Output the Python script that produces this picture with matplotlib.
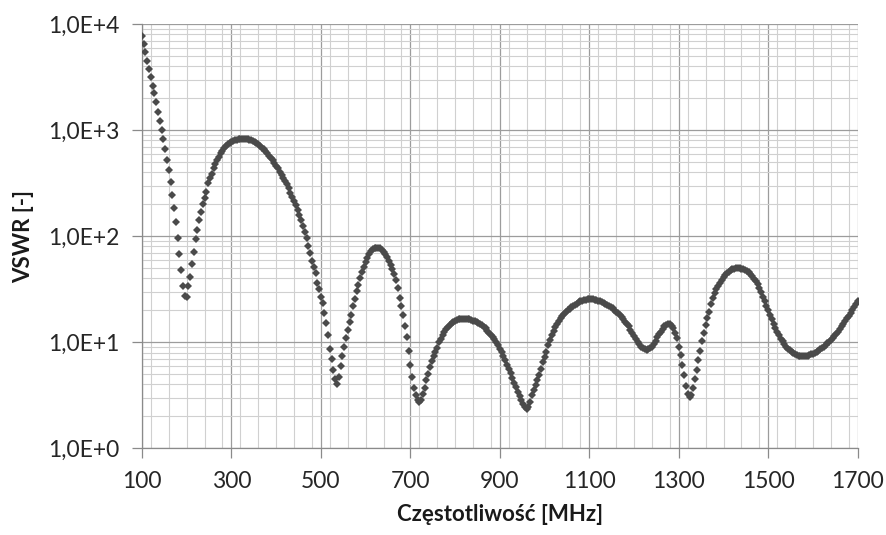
import numpy as np
import matplotlib
matplotlib.use('Agg')
import matplotlib.pyplot as plt
from matplotlib.ticker import FixedLocator, MultipleLocator, LogLocator, FuncFormatter

# sweep 100..1700 MHz, 4 MHz step
freq_start = 100
freq_step = 4

# log10(VSWR), one row per 100 MHz of the sweep
vswr_log10 = [
    3.89, 3.81, 3.74, 3.65, 3.58, 3.505, 3.42, 3.35, 3.265, 3.17, 3.09, 3.00, 2.92,
    2.82, 2.72, 2.62, 2.51, 2.39, 2.27, 2.13, 1.98, 1.83, 1.68, 1.53, 1.44,
    1.43, 1.53, 1.62, 1.74, 1.855, 1.97, 2.06, 2.155, 2.225, 2.30, 2.36, 2.42, 2.50,
    2.55, 2.59, 2.64, 2.68, 2.72, 2.75, 2.78, 2.805, 2.83, 2.85, 2.865, 2.88,
    2.89, 2.90, 2.905, 2.91, 2.915, 2.92, 2.92, 2.92, 2.92, 2.915, 2.91, 2.905, 2.90,
    2.89, 2.875, 2.865, 2.85, 2.835, 2.82, 2.80, 2.78, 2.76, 2.74, 2.72, 2.69,
    2.665, 2.64, 2.61, 2.58, 2.55, 2.52, 2.49, 2.45, 2.41, 2.37, 2.33, 2.29, 2.25,
    2.20, 2.15, 2.10, 2.04, 1.98, 1.91, 1.84, 1.77, 1.71, 1.65, 1.56, 1.50,
    1.43, 1.37, 1.28, 1.185, 1.07, 0.94, 0.84, 0.74, 0.65, 0.61, 0.67, 0.78, 0.87,
    0.96, 1.04, 1.12, 1.19, 1.26, 1.34, 1.41, 1.48, 1.54, 1.61, 1.665, 1.71,
    1.755, 1.795, 1.83, 1.86, 1.875, 1.885, 1.89, 1.89, 1.885, 1.87, 1.85, 1.83, 1.80,
    1.77, 1.73, 1.69, 1.645, 1.59, 1.51, 1.42, 1.34, 1.26, 1.15, 1.05, 0.92,
    0.79, 0.67, 0.57, 0.50, 0.46, 0.44, 0.46, 0.51, 0.57, 0.64, 0.70, 0.77, 0.82,
    0.87, 0.91, 0.95, 1.00, 1.035, 1.07, 1.10, 1.125, 1.145, 1.165, 1.18, 1.19,
    1.20, 1.21, 1.215, 1.22, 1.22, 1.22, 1.22, 1.22, 1.215, 1.21, 1.205, 1.20, 1.19,
    1.18, 1.17, 1.16, 1.145, 1.13, 1.11, 1.09, 1.07, 1.05, 1.03, 1.00, 0.97,
    0.94, 0.91, 0.87, 0.83, 0.79, 0.75, 0.71, 0.665, 0.62, 0.58, 0.535, 0.495, 0.455,
    0.42, 0.39, 0.375, 0.39, 0.44, 0.50, 0.55, 0.60, 0.64, 0.69, 0.75, 0.81,
    0.86, 0.91, 0.97, 1.02, 1.065, 1.105, 1.14, 1.17, 1.20, 1.225, 1.245, 1.265, 1.285,
    1.30, 1.315, 1.33, 1.345, 1.355, 1.365, 1.375, 1.385, 1.39, 1.395, 1.40, 1.405,
    1.41, 1.41, 1.405, 1.40, 1.395, 1.39, 1.385, 1.375, 1.37, 1.36, 1.355, 1.345, 1.335,
    1.32, 1.305, 1.29, 1.275, 1.255, 1.235, 1.215, 1.195, 1.175, 1.15, 1.12, 1.09,
    1.06, 1.035, 1.005, 0.98, 0.96, 0.945, 0.935, 0.93, 0.935, 0.945, 0.96, 0.985, 1.015,
    1.045, 1.075, 1.10, 1.125, 1.15, 1.165, 1.175, 1.17, 1.155, 1.13, 1.09, 1.04,
    0.96, 0.88, 0.79, 0.69, 0.59, 0.51, 0.48, 0.50, 0.57, 0.65, 0.74, 0.83, 0.92,
    1.01, 1.09, 1.16, 1.23, 1.29, 1.36, 1.42, 1.465, 1.50, 1.53, 1.56, 1.59,
    1.615, 1.635, 1.65, 1.665, 1.68, 1.69, 1.695, 1.70, 1.70, 1.70, 1.695, 1.69, 1.68,
    1.67, 1.66, 1.645, 1.625, 1.60, 1.575, 1.545, 1.51, 1.47, 1.43, 1.39, 1.345,
    1.30, 1.26, 1.215, 1.175, 1.135, 1.10, 1.065, 1.035, 1.01, 0.985, 0.96, 0.94, 0.925,
    0.91, 0.90, 0.89, 0.88, 0.875, 0.872, 0.87, 0.87, 0.87, 0.872, 0.878, 0.885,
    0.893, 0.90, 0.91, 0.92, 0.932, 0.945, 0.96, 0.975, 0.99, 1.005, 1.02, 1.04, 1.06,
    1.08, 1.10, 1.125, 1.15, 1.175, 1.20, 1.225, 1.25, 1.275, 1.30, 1.33, 1.36,
    1.39,
]

freq_ticks = [100, 300, 500, 700, 900, 1100, 1300, 1500, 1700]

vswr = 10 ** np.array(vswr_log10)
freq = freq_start + freq_step * np.arange(len(vswr))

plt.rcParams['font.family'] = ['Lato', 'DejaVu Sans']

fig = plt.figure(figsize=(8.87, 5.35), dpi=100)
ax = fig.add_axes([0.160, 0.162, 0.807, 0.793])

ax.plot(freq, vswr, linestyle='none', marker='D', markersize=4.3,
        color='#4a4a4a', markeredgewidth=0, zorder=3)

ax.set_yscale('log')
ax.set_xlim(100, 1700)
ax.set_ylim(1, 1e4)

ax.xaxis.set_major_locator(FixedLocator(freq_ticks))
ax.xaxis.set_minor_locator(MultipleLocator(40))
ax.yaxis.set_major_locator(LogLocator(base=10, numticks=10))
ax.yaxis.set_minor_locator(LogLocator(base=10, subs=np.arange(2, 10), numticks=50))
ax.yaxis.set_minor_formatter(FuncFormatter(lambda v, p: ''))
ax.yaxis.set_major_formatter(FuncFormatter(
    lambda v, p: '1,0E+%d' % int(round(np.log10(v)))))

ax.grid(True, which='major', color='#9c9c9c', linewidth=0.9)
ax.grid(True, which='minor', color='#d0d0d0', linewidth=0.8)
ax.set_axisbelow(True)

for side in ['top', 'right']:
    ax.spines[side].set_visible(False)
for side in ['left', 'bottom']:
    ax.spines[side].set_color('#8a8a8a')
    ax.spines[side].set_linewidth(0.9)

ax.tick_params(which='major', length=7, width=0.9, color='#8a8a8a',
               labelsize=16.5, labelcolor='#262626', pad=9)
ax.tick_params(which='minor', length=0)

ax.set_xlabel('Częstotliwość [MHz]', fontsize=16, fontweight='bold',
              color='#1a1a1a', labelpad=9)
ax.set_ylabel('VSWR [-]', fontsize=16, fontweight='bold',
              color='#1a1a1a', labelpad=10)

fig.savefig('out.png', dpi=100)
